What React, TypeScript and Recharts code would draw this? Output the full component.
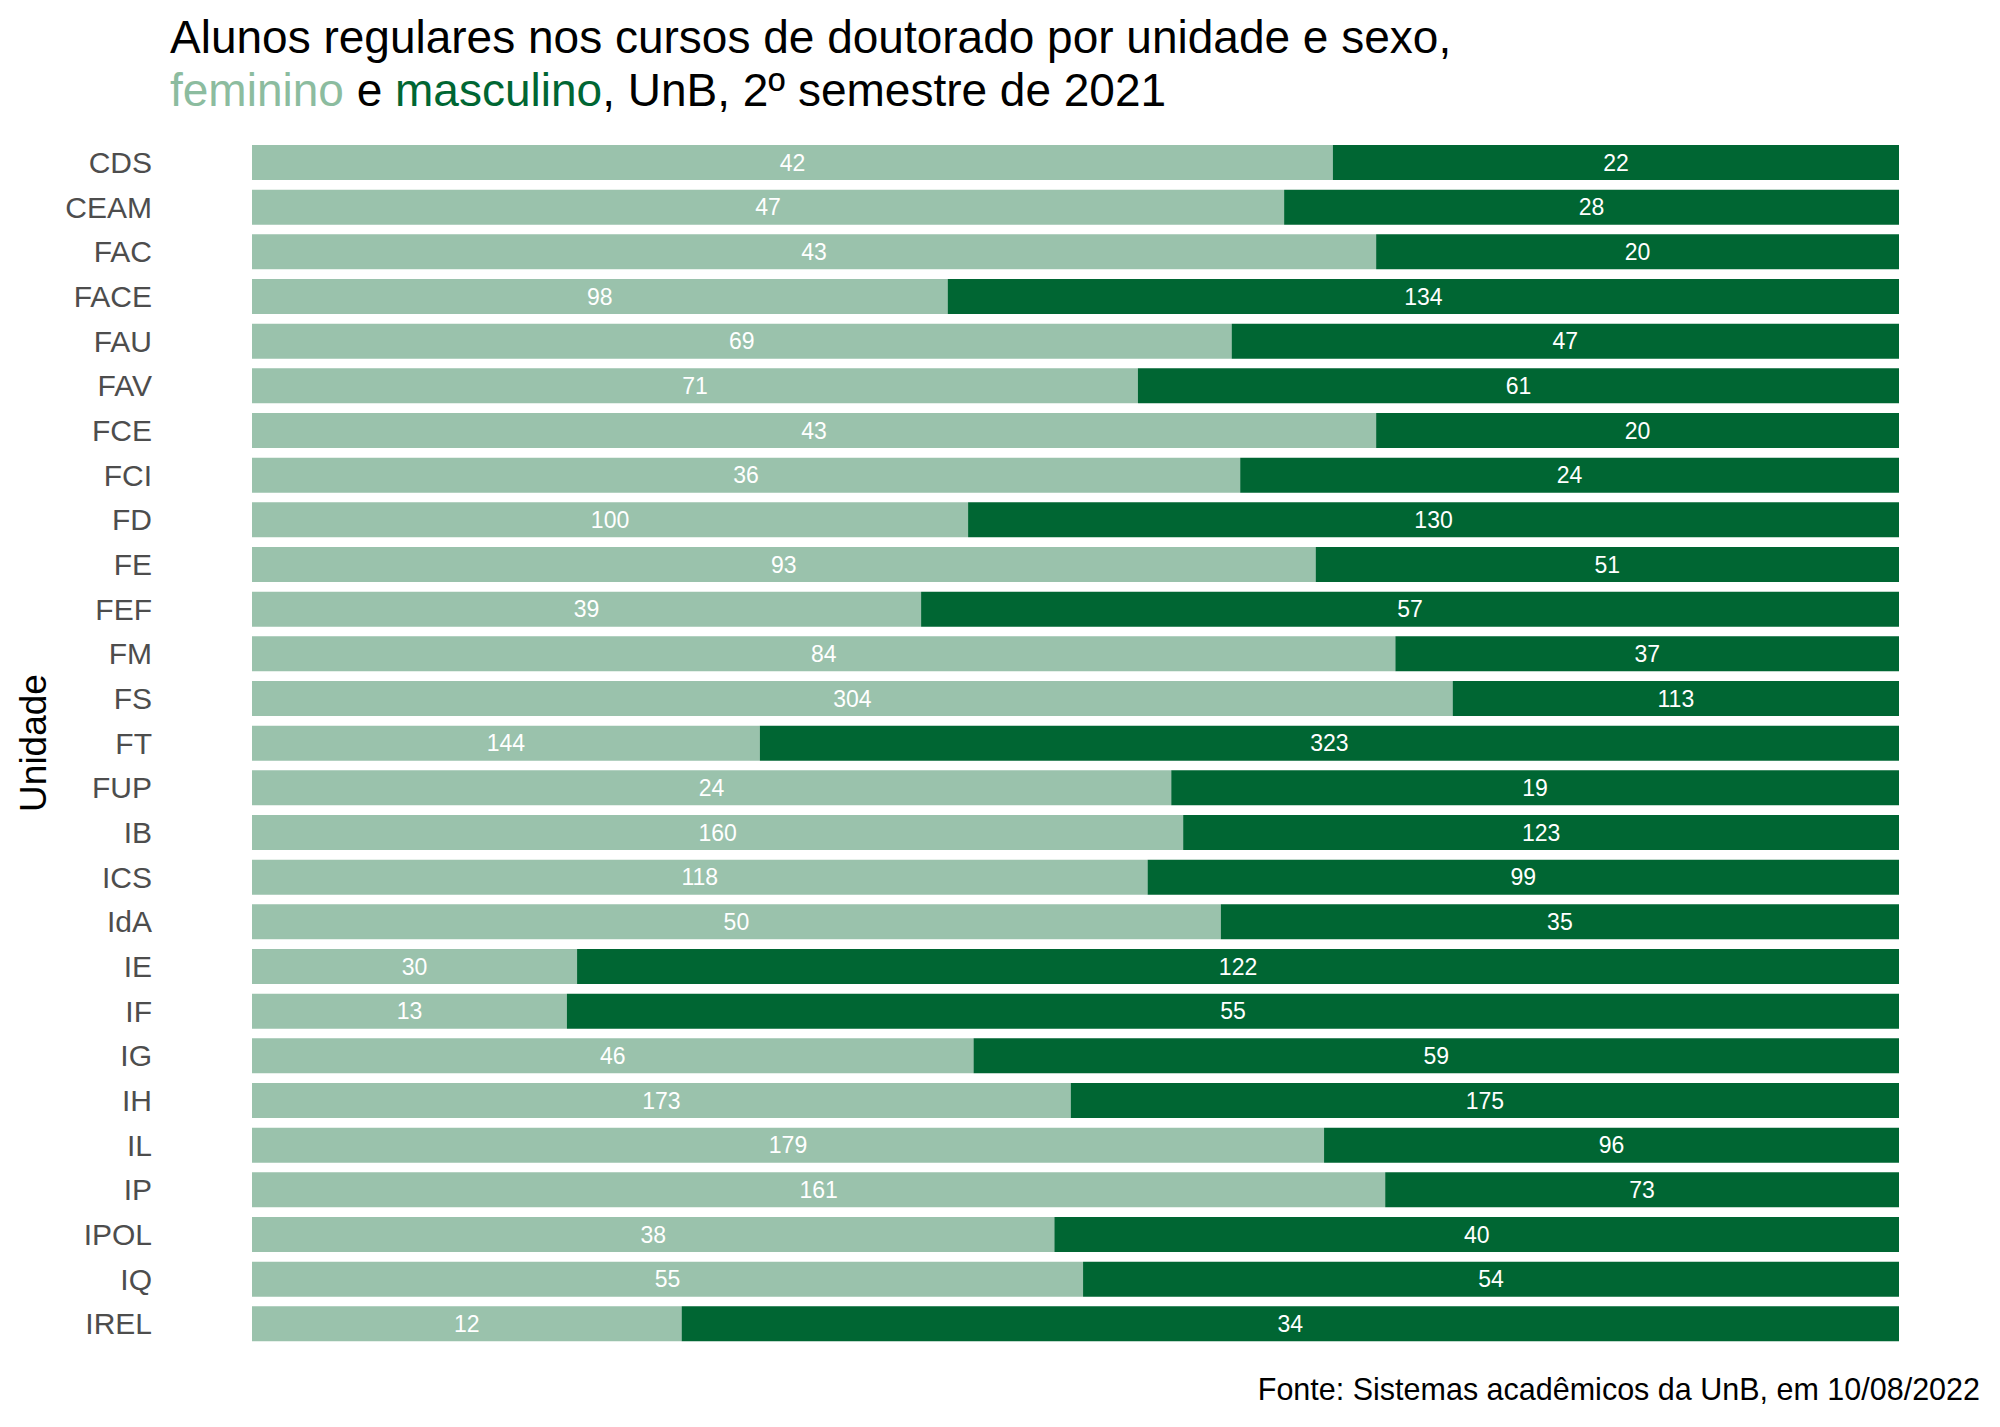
import { Bar, BarChart, LabelList, XAxis, YAxis } from "recharts";

const unidades = [
  "CDS", "CEAM", "FAC", "FACE", "FAU", "FAV", "FCE", "FCI", "FD", "FE",
  "FEF", "FM", "FS", "FT", "FUP", "IB", "ICS", "IdA", "IE", "IF",
  "IG", "IH", "IL", "IP", "IPOL", "IQ", "IREL",
];

const feminino = [
  42, 47, 43, 98, 69, 71, 43, 36, 100, 93,
  39, 84, 304, 144, 24, 160, 118, 50, 30, 13,
  46, 173, 179, 161, 38, 55, 12,
];

const masculino = [
  22, 28, 20, 134, 47, 61, 20, 24, 130, 51,
  57, 37, 113, 323, 19, 123, 99, 35, 122, 55,
  59, 175, 96, 73, 40, 54, 34,
];

const COR_FEM = "#9ac2ac";
const COR_MASC = "#006633";
const FONTE = "'Liberation Sans', Arial, sans-serif";

const data = unidades.map((unidade, i) => ({
  unidade,
  feminino: feminino[i],
  masculino: masculino[i],
}));

const App = () => {
  return (
    <div
      style={{
        position: "absolute",
        left: 0,
        top: 0,
        width: 2000,
        height: 1427,
        background: "#ffffff",
        fontFamily: FONTE,
      }}
    >
      <div
        style={{
          position: "absolute",
          left: 170,
          top: 11,
          fontSize: 46,
          lineHeight: "53px",
          color: "#000000",
          whiteSpace: "nowrap",
        }}
      >
        <div>Alunos regulares nos cursos de doutorado por unidade e sexo,</div>
        <div>
          <span style={{ color: "#8cbc9f" }}>feminino</span> e{" "}
          <span style={{ color: COR_MASC }}>masculino</span>, UnB, 2º semestre
          de 2021
        </div>
      </div>

      <svg
        width={80}
        height={1427}
        style={{ position: "absolute", left: 0, top: 0 }}
      >
        <text
          x={0}
          y={0}
          transform="translate(46 743) rotate(-90)"
          textAnchor="middle"
          fontSize={37}
          fontFamily={FONTE}
          fill="#000000"
        >
          Unidade
        </text>
      </svg>

      <div style={{ position: "absolute", left: 0, top: 0 }}>
        <BarChart
          width={2000}
          height={1427}
          data={data}
          layout="vertical"
          stackOffset="expand"
          barSize={35}
          margin={{ top: 140, right: 101, bottom: 81, left: 0 }}
        >
          <XAxis type="number" hide domain={[0, 1]} />
          <YAxis
            type="category"
            dataKey="unidade"
            width={252}
            axisLine={false}
            tickLine={false}
            tickSize={0}
            tickMargin={100}
            interval={0}
            tick={{ fill: "#4d4d4d", fontSize: 30, fontFamily: FONTE }}
          />
          <Bar
            dataKey="feminino"
            stackId="a"
            fill={COR_FEM}
            isAnimationActive={false}
          >
            <LabelList
              dataKey="feminino"
              position="center"
              fill="#ffffff"
              fontSize={23}
              fontFamily={FONTE}
            />
          </Bar>
          <Bar
            dataKey="masculino"
            stackId="a"
            fill={COR_MASC}
            isAnimationActive={false}
          >
            <LabelList
              dataKey="masculino"
              position="center"
              fill="#ffffff"
              fontSize={23}
              fontFamily={FONTE}
            />
          </Bar>
        </BarChart>
      </div>

      <div
        style={{
          position: "absolute",
          right: 20,
          top: 1372,
          fontSize: 30.5,
          lineHeight: "34px",
          color: "#000000",
          whiteSpace: "nowrap",
        }}
      >
        Fonte: Sistemas acadêmicos da UnB, em 10/08/2022
      </div>
    </div>
  );
};

export default App;
